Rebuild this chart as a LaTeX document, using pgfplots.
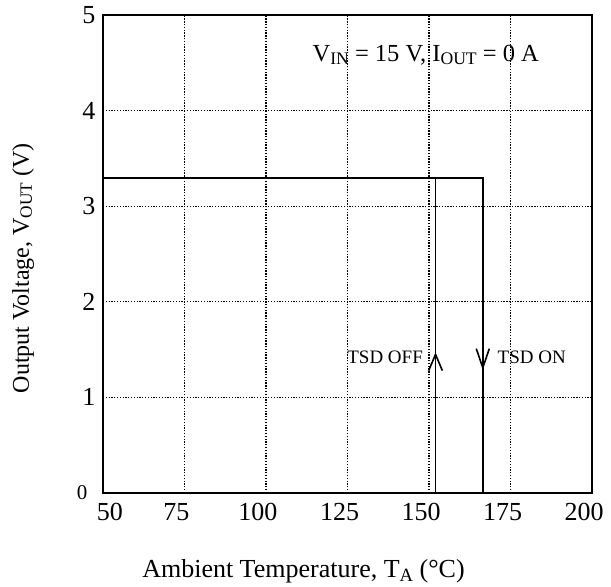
\documentclass[border=0pt]{standalone}
\usepackage{pgfplots}
\pgfplotsset{compat=1.18}
\usepackage{graphicx}
\usepackage{fontspec}
\setmainfont{Liberation Serif}

% small-cap style subscript as in the datasheet
\newcommand{\sub}[1]{\raisebox{-0.12em}{\scalebox{0.72}{#1}}}

\begin{document}
\begin{tikzpicture}
\begin{axis}[
  scale only axis,
  width=489pt, height=478pt,
  xmin=50, xmax=200, ymin=0, ymax=5,
  xtick={50,75,...,200},
  xticklabels={\hspace*{30pt}50,75,100,125,150,175,200},
  ytick={0,1,2,3,4,5},
  yticklabels={{\fontsize{21}{24}\selectfont 0\hspace*{8pt}},1,2,3,4,5},
  major tick length=0pt,
  /pgf/number format/assume math mode=true,
  tick label style={font=\fontsize{26}{30}\selectfont},
  xticklabel style={yshift=-7pt, xshift=-8pt},
  yticklabel style={xshift=-4pt},
  axis line style={black, line width=1.6pt},
  grid=major,
  major grid style={black, line width=1.3pt, dash pattern=on 1.3pt off 1.5pt},
  xlabel={Ambient Temperature, T\sub{A} (°C)},
  ylabel={Output Voltage, V\sub{OUT} (V)},
  label style={font=\fontsize{26}{30}\selectfont},
  xlabel style={at={(ticklabel cs:0.41)}, anchor=north, yshift=-32pt},
  ylabel style={at={(ticklabel cs:0.47)}, anchor=south, yshift=36pt, font=\fontsize{24}{28}\selectfont},
  clip=false,
]
% TSD ON path: flat output, drops at ~167 C
\addplot[black, line width=2pt] coordinates {(50,3.3) (166.5,3.3) (166.5,0)};
% TSD OFF recovery at ~152 C
\addplot[black, line width=1.6pt] coordinates {(152,0) (152,3.3)};
% arrow heads
\addplot[black, line width=1.6pt] coordinates {(149.9,1.28) (152,1.45) (154.1,1.28)};
\addplot[black, line width=1.6pt] coordinates {(164.5,1.51) (166.5,1.31) (168.5,1.51)};

\node[font=\fontsize{24.5}{28}\selectfont] at (axis cs:149,4.58)
  {V\sub{IN} = 15 V, I\sub{OUT} = 0 A};
\node[font=\fontsize{19}{22}\selectfont, anchor=east] at (axis cs:149.2,1.42) {TSD OFF};
\node[font=\fontsize{19}{22}\selectfont, anchor=west] at (axis cs:170,1.42) {TSD ON};
\end{axis}
\path (current axis.south west) ++(-103pt,-93pt) rectangle ++(611pt,586pt);
\end{tikzpicture}
\end{document}
